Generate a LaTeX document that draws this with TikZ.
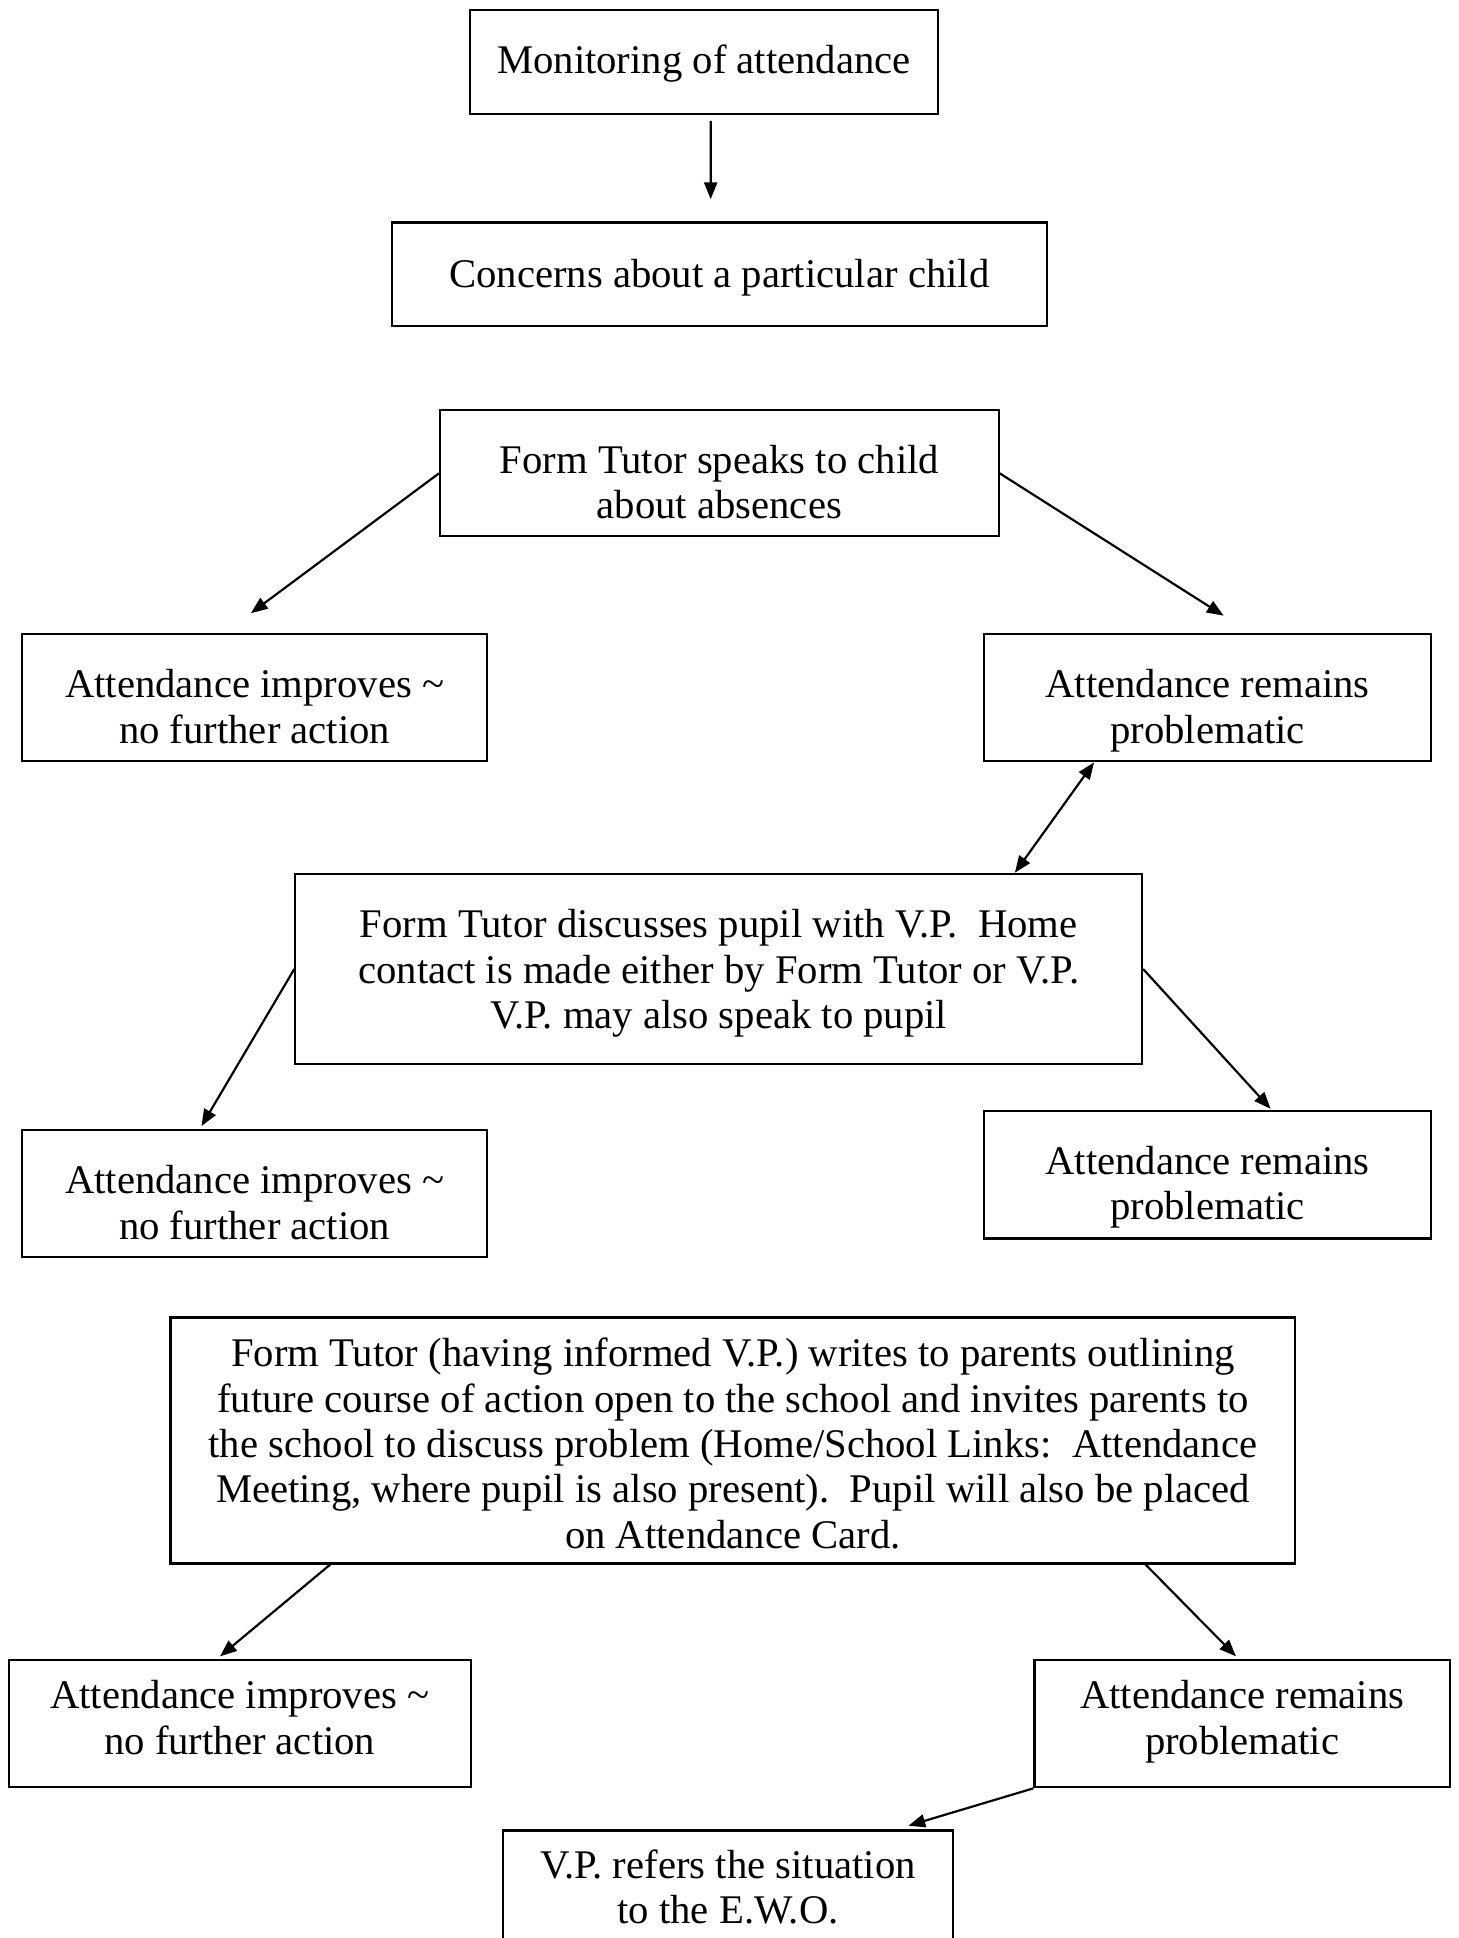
\documentclass[tikz,border=0pt]{standalone}
\usepackage{fontspec}
\setmainfont{Liberation Serif}
\usetikzlibrary{arrows.meta,calc}
\newlength\uul
\setlength\uul{0.398pt}
\newcommand\tx[2][0]{\raisebox{-#1\uul}[\height][\depth]{\begin{tabular}{@{}c@{}}#2\end{tabular}}}
\newcommand\tld{{\char"7E}}
\begin{document}
\begin{tikzpicture}[x=0.398pt,y=-0.398pt,
  every node/.style={font=\fontsize{13.1}{14.6}\selectfont},
  box/.style={draw,line width=0.7pt,rectangle,inner sep=0pt},
  arr/.style={line width=0.7pt,-{Triangle[length=5.4pt,width=4.2pt]}},
  arrtwo/.style={line width=0.7pt,{Triangle[length=5.4pt,width=4.2pt]}-{Triangle[length=5.4pt,width=4.2pt]}}]
\useasboundingbox (0,0) rectangle (1180,1568);
\node[box,minimum width=379*\uul,minimum height=84*\uul] (b1) at (569.5,50) {\tx[2]{Monitoring of attendance}};
\node[box,minimum width=530*\uul,minimum height=84*\uul] (b2) at (582,222) {\tx[3]{Concerns about a particular child}};
\node[box,minimum width=452*\uul,minimum height=102*\uul] (b3) at (582,383) {\tx[11]{Form Tutor speaks to child\\about absences}};
\node[box,minimum width=376*\uul,minimum height=103*\uul] (b4l) at (206,564.5) {\tx[11]{Attendance improves \tld\\no further action}};
\node[box,minimum width=362*\uul,minimum height=103*\uul] (b4r) at (977,564.5) {\tx[11]{Attendance remains\\problematic}};
\node[box,minimum width=685*\uul,minimum height=154*\uul] (b5) at (581.5,784) {\tx[4]{Form Tutor discusses pupil with V.P.\ \ Home\\contact is made either by Form Tutor or V.P.\\V.P. may also speak to pupil}};
\node[box,minimum width=376*\uul,minimum height=103*\uul] (b6l) at (206,965.5) {\tx[11.5]{Attendance improves \tld\\no further action}};
\node[box,minimum width=362*\uul,minimum height=103*\uul] (b6r) at (977,950.5) {\tx[10.5]{Attendance remains\\problematic}};
\node[box,minimum width=910*\uul,minimum height=199*\uul] (b7) at (593,1165.5) {\tx[6.5]{Form Tutor (having informed V.P.) writes to parents outlining\\future course of action open to the school and invites parents to\\the school to discuss problem (Home/School Links:\ \ Attendance\\Meeting, where pupil is also present).\ \ Pupil will also be placed\\on Attendance Card.}};
\node[box,minimum width=374*\uul,minimum height=103*\uul] (b8l) at (194,1394.5) {\tx[-1]{Attendance improves \tld\\no further action}};
\node[box,minimum width=336*\uul,minimum height=103*\uul] (b8r) at (1005,1394.5) {\tx[-1]{Attendance remains\\problematic}};
\node[box,minimum width=364*\uul,minimum height=103*\uul] (b9) at (589,1532.5) {\tx[-2]{V.P. refers the situation\\to the E.W.O.}};
\draw[arr] ($(b1.south)+(5.5,5)$) -- ($(b2.north)+(-7,-18)$);
\draw[arr] (b3.west) -- ($(b4l.north)+(-3,-16)$);
\draw[arr] (b3.east) -- ($(b4r.north)+(13,-14)$);
\draw[arrtwo] ($(b4r.south west)+(90,0)$) -- ($(b5.north west)+(583,0)$);
\draw[arr] (b5.west) -- ($(b6l.north)+(-43,-2)$);
\draw[arr] (b5.east) -- ($(b6r.north)+(51,-1)$);
\draw[arr] ($(b7.south west)+(130,0)$) -- ($(b8l.north)+(-16,-2)$);
\draw[arr] ($(b7.south east)+(-122,0)$) -- ($(b8r.north)+(-5,-2)$);
\draw[arr] (b8r.south west) -- ($(b9.north)+(146,-3)$);
\end{tikzpicture}
\end{document}
